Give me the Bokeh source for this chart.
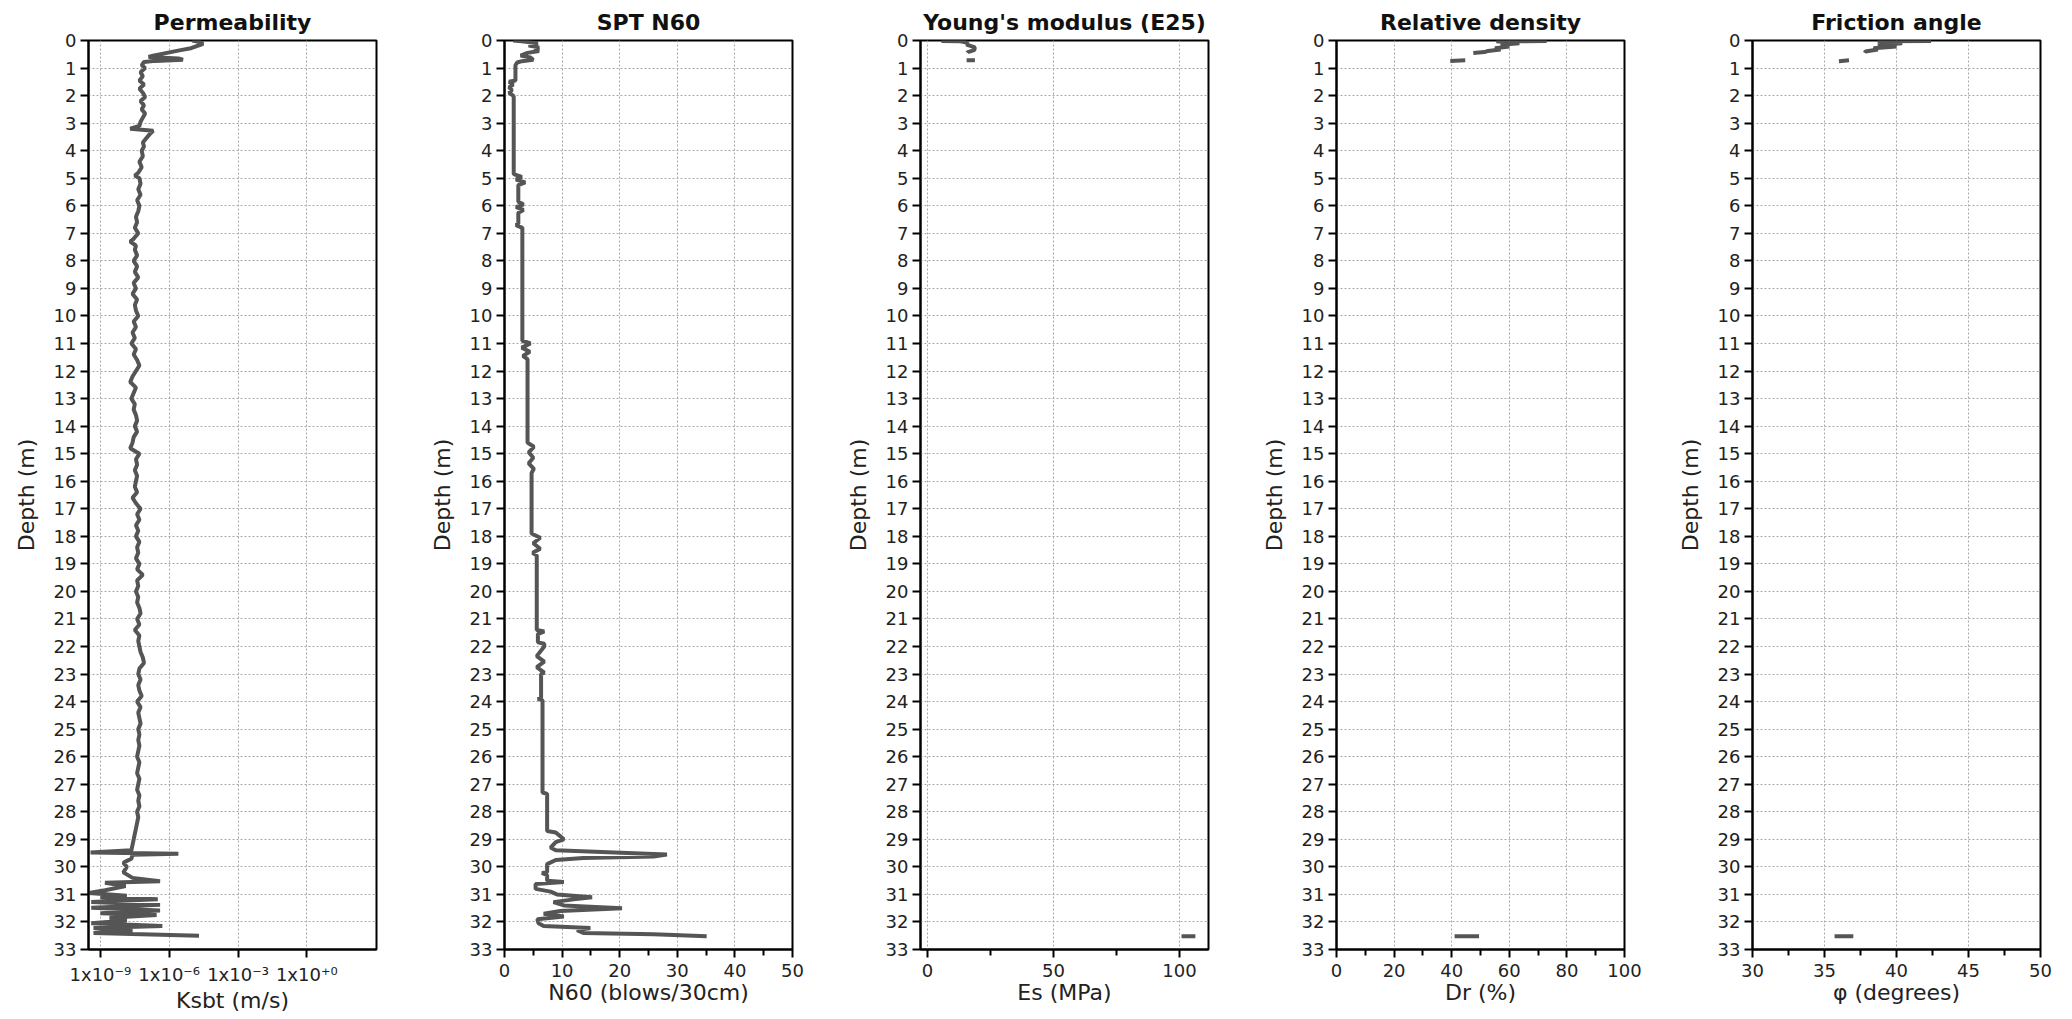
from bokeh.plotting import figure
from bokeh.layouts import row
from bokeh.models import Range1d, FixedTicker, CustomJSTickFormatter
from bokeh.embed import file_html
from bokeh.resources import INLINE

NaN = float("nan")

# ---------------- data ----------------
depth_ticks = list(range(0, 34))

# Permeability (log10 of Ksbt, m/s)
perm_depth = [
    0.00, 0.05, 0.12, 0.20, 0.28, 0.35, 0.45, 0.55, 0.60, 0.65, 0.70, 0.74, 0.78, 0.90,
    1.00, 1.15, 1.30, 1.45, 1.60, 1.75, 1.90, 2.05, 2.20, 2.35, 2.50, 2.65, 2.80, 2.95,
    3.10, 3.20, 3.28, 3.40, 3.55, 3.70, 3.85, 4.00, 4.20, 4.40, 4.60, 4.80, 4.90, 5.00,
    5.20, 5.40, 5.60, 5.80, 6.00, 6.20, 6.40, 6.60, 6.80, 7.00, 7.20, 7.30, 7.45, 7.60,
    7.80, 8.00, 8.20, 8.40, 8.60, 8.80, 9.00, 9.20, 9.40, 9.60, 9.80, 10.00, 10.20, 10.40,
    10.60, 10.80, 11.00, 11.20, 11.40, 11.60, 11.80, 12.00, 12.20, 12.40, 12.60, 12.80,
    13.00, 13.20, 13.40, 13.60, 13.80, 14.00, 14.20, 14.40, 14.60, 14.80, 15.00, 15.20,
    15.40, 15.60, 15.80, 16.00, 16.20, 16.40, 16.60, 16.80, 17.00, 17.20, 17.40, 17.60,
    17.80, 18.00, 18.20, 18.40, 18.60, 18.80, 19.00, 19.20, 19.40, 19.60, 19.80, 20.00,
    20.20, 20.40, 20.60, 20.80, 21.00, 21.20, 21.40, 21.60, 21.80, 22.00, 22.20, 22.40,
    22.60, 22.80, 23.00, 23.20, 23.40, 23.60, 23.80, 24.00, 24.20, 24.40, 24.60, 24.80,
    25.00, 25.20, 25.40, 25.60, 25.80, 26.00, 26.20, 26.40, 26.60, 26.80, 27.00, 27.20,
    27.40, 27.60, 27.80, 28.00, 28.20, 28.40, 28.60, 28.80, 29.00, 29.20, 29.40, 29.48,
    29.52, 29.56, 29.70, 29.85, 30.00, 30.20, 30.40, 30.52, 30.58, 30.70, 30.85, 30.95,
    31.05, 31.10, 31.18, 31.28, 31.38, 31.48, 31.58, 31.68, 31.75, 31.85, 31.95, 32.05,
    32.15, 32.22, 32.30, 32.40, 32.50,
]
perm_log10 = [
    -5.00, -4.70, -4.52, -4.80, -5.05, -5.50, -6.10, -6.70, -6.90, -5.60, -5.40, -6.60, -7.10, -7.20,
    -7.05, -7.25, -7.15, -7.30, -7.10, -7.30, -7.15, -7.05, -7.25, -7.10, -7.20, -7.05, -7.15, -7.25,
    -7.30, -7.70, -6.70, -6.85, -7.00, -7.15, -7.10, -7.20, -7.15, -7.30, -7.20, -7.35, -7.50, -7.30,
    -7.25, -7.35, -7.25, -7.40, -7.30, -7.35, -7.45, -7.40, -7.50, -7.35, -7.55, -7.70, -7.45, -7.50,
    -7.40, -7.55, -7.40, -7.50, -7.35, -7.55, -7.45, -7.60, -7.40, -7.50, -7.45, -7.35, -7.55, -7.45,
    -7.60, -7.50, -7.65, -7.45, -7.55, -7.40, -7.30, -7.45, -7.60, -7.70, -7.45, -7.55,
    -7.65, -7.50, -7.55, -7.45, -7.40, -7.50, -7.40, -7.55, -7.60, -7.70, -7.30, -7.45,
    -7.40, -7.50, -7.40, -7.45, -7.50, -7.40, -7.60, -7.45, -7.25, -7.40, -7.30, -7.45,
    -7.35, -7.45, -7.30, -7.40, -7.35, -7.45, -7.30, -7.40, -7.15, -7.40, -7.35, -7.45,
    -7.35, -7.40, -7.30, -7.25, -7.40, -7.30, -7.50, -7.30, -7.35, -7.30, -7.25, -7.15,
    -7.10, -7.30, -7.35, -7.25, -7.35, -7.30, -7.20, -7.40, -7.25, -7.35, -7.30, -7.25,
    -7.35, -7.30, -7.35, -7.30, -7.35, -7.40, -7.30, -7.35, -7.40, -7.30, -7.35, -7.40,
    -7.30, -7.35, -7.30, -7.40, -7.35, -7.40, -7.45, -7.50, -7.55, -7.60, -7.65, -9.43,
    -5.60, -7.60, -7.65, -8.00, -7.85, -8.00, -7.60, -6.40, -8.80, -7.90, -8.80, -9.50,
    -7.85, -9.00, -6.50, -9.40, -6.40, -9.40, -6.40, -9.00, -6.55, -8.60, -7.85, -9.40,
    -6.30, -9.30, -7.60, -9.30, -4.70,
]
perm_k = [10 ** v for v in perm_log10]
perm_ticks = [1e-9, 1e-6, 1e-3, 1.0]
perm_tick_labels = ["1x10⁻⁹", "1x10⁻⁶", "1x10⁻³", "1x10⁺⁰"]

# SPT N60 (blows/30cm)
spt_depth = [
    0.00, 0.03, 0.10, 0.18, 0.25, 0.32, 0.38, 0.45, 0.55, 0.62, 0.70, 0.75, 0.80, 0.90,
    1.45, 1.50, 1.60, 1.70, 1.80, 1.90, 2.00, 2.05, 4.85, 4.95, 5.05, 5.15, 5.25, 5.85,
    5.95, 6.05, 6.15, 6.25, 6.65, 6.70, 6.80, 10.90, 11.00, 11.15, 11.30, 11.45, 11.57,
    14.60, 14.75, 14.95, 15.15, 15.35, 15.55, 15.70, 17.90, 18.05, 18.25, 18.45, 18.60,
    18.70, 21.40, 21.45, 21.55, 21.85, 21.90, 22.00, 22.35, 22.55, 22.75, 22.95, 23.00,
    23.85, 23.90, 23.95, 27.30, 27.35, 28.70, 28.75, 29.00, 29.10, 29.30, 29.40, 29.55,
    29.62, 29.68, 29.75, 29.90, 30.20, 30.22, 30.30, 30.50, 30.55, 30.62, 30.80, 30.90,
    31.00, 31.10, 31.18, 31.28, 31.40, 31.50, 31.60, 31.70, 31.80, 31.90, 32.05, 32.15,
    32.22, 32.30, 32.40, 32.45, 32.52,
]
spt_n60 = [
    1.5, 3.0, 5.8, 4.2, 6.0, 5.2, 6.0, 4.0, 2.8, 4.5, 5.0, 3.0, 2.2, 1.9,
    1.9, 0.8, 1.5, 0.8, 1.3, 0.8, 1.5, 1.6, 1.6, 3.0, 2.0, 3.6, 2.4, 2.4,
    3.3, 2.0, 3.3, 2.4, 2.4, 2.0, 3.1, 3.1, 4.5, 3.0, 4.4, 3.2, 4.0,
    4.0, 5.1, 4.2, 5.0, 4.2, 5.1, 4.7, 4.7, 6.2, 5.0, 6.2, 4.9,
    5.6, 5.6, 6.9, 5.8, 5.8, 6.9, 6.9, 5.6, 6.9, 5.6, 6.9, 6.35,
    6.35, 5.8, 6.6, 6.6, 7.4, 7.4, 8.9, 10.3, 8.9, 8.0, 8.9, 28.2,
    25.9, 13.7, 8.9, 7.4, 7.4, 6.5, 7.4, 7.4, 10.3, 5.4, 5.4, 8.0,
    9.1, 15.2, 12.0, 8.5, 10.3, 20.4, 9.7, 6.8, 10.3, 5.7, 5.9, 6.8,
    14.9, 12.6, 13.7, 25.9, 35.1,
]

# Young's modulus Es (MPa) - gaps where no value
es_depth = [0.02, 0.03, 0.08, 0.15, 0.25, 0.35, 0.42, 0.45, NaN, 0.72, 0.72, NaN, 32.52, 32.52]
es_mpa = [5.5, 13.0, 16.0, 15.5, 18.8, 18.5, 16.0, 15.8, NaN, 15.5, 18.8, NaN, 100.8, 106.3]

# Relative density Dr (%)
dr_depth = [0.02, 0.03, 0.10, 0.15, 0.22, 0.28, 0.33, 0.38, 0.42, 0.45, NaN, 0.72, 0.74, NaN, 32.52, 32.52]
dr_pct = [73.0, 55.5, 63.5, 57.0, 60.0, 55.0, 57.0, 52.6, 51.4, 47.5, NaN, 44.7, 39.5, NaN, 41.0, 49.5]

# Friction angle phi (degrees)
phi_depth = [0.02, 0.03, 0.10, 0.15, 0.22, 0.28, 0.33, 0.40, 0.45, NaN, 0.72, 0.75, NaN, 32.52, 32.52]
phi_deg = [42.4, 38.7, 40.4, 38.7, 40.0, 38.4, 38.7, 37.85, 37.8, NaN, 36.7, 36.0, NaN, 35.7, 37.0]

# ---------------- styling ----------------
FONT = "DejaVu Sans"
LINE_COLOR = "#555555"


def make_panel(title, xlabel, xdata, ydata, x_range, ticks, minor_ticks, width, border_right,
               x_axis_type="linear", formatter=None):
    p = figure(width=width, height=1015, x_axis_type=x_axis_type,
               x_range=x_range, y_range=Range1d(33, 0),
               output_backend="svg", toolbar_location=None,
               min_border_left=88, min_border_right=border_right,
               min_border_top=40, min_border_bottom=61)
    p.title.text = title
    p.title.align = "center"
    p.title.text_font = FONT
    p.title.text_font_size = "22px"
    p.title.text_font_style = "bold"
    p.title.text_color = "#111111"
    p.title.standoff = 11

    p.xaxis.ticker = FixedTicker(ticks=ticks, minor_ticks=minor_ticks)
    if formatter is not None:
        p.xaxis.formatter = formatter
    p.yaxis.ticker = FixedTicker(ticks=depth_ticks)

    p.xaxis.axis_label = xlabel
    p.yaxis.axis_label = "Depth (m)"
    for ax in (p.xaxis, p.yaxis):
        ax.axis_label_text_font = FONT
        ax.axis_label_text_font_size = "22px"
        ax.axis_label_text_font_style = "normal"
        ax.axis_label_text_color = "#222222"
        ax.major_label_text_font = FONT
        ax.major_label_text_font_size = "18px"
        ax.major_label_text_color = "#222222"
        ax.axis_line_color = "black"
        ax.axis_line_width = 2
        ax.major_tick_line_color = "black"
        ax.major_tick_line_width = 2
        ax.major_tick_out = 8
        ax.major_tick_in = 0
        ax.minor_tick_line_color = "black"
        ax.minor_tick_line_width = 2
        ax.minor_tick_out = 6
        ax.minor_tick_in = 0
    p.xaxis.major_label_standoff = 6
    p.xaxis.axis_label_standoff = 0
    p.yaxis.major_label_standoff = 4
    p.yaxis.axis_label_standoff = 12

    p.xgrid.grid_line_color = "#a8a8a8"
    p.xgrid.grid_line_dash = "2 2"
    p.ygrid.grid_line_color = "#a8a8a8"
    p.ygrid.grid_line_dash = "2 2"

    p.outline_line_color = "black"
    p.outline_line_width = 2
    p.outline_line_alpha = 1.0
    p.background_fill_color = "white"
    p.border_fill_color = "white"

    p.line(xdata, ydata, line_color=LINE_COLOR, line_width=4)
    return p


perm_formatter = CustomJSTickFormatter(
    args=dict(tick_values=perm_ticks, tick_labels=perm_tick_labels), code="""
    let best = 0;
    for (let i = 0; i < tick_values.length; i++) {
        if (Math.abs(Math.log10(tick) - Math.log10(tick_values[i])) <
            Math.abs(Math.log10(tick) - Math.log10(tick_values[best]))) { best = i; }
    }
    return tick_labels[best];
""")

p1 = make_panel("Permeability", "Ksbt (m/s)", perm_k, perm_depth,
                Range1d(10 ** -9.52, 10 ** 3.04), perm_ticks, [], 416, 40,
                x_axis_type="log", formatter=perm_formatter)
p2 = make_panel("SPT N60", "N60 (blows/30cm)", spt_n60, spt_depth,
                Range1d(0, 50), [0, 10, 20, 30, 40, 50], [5, 15, 25, 35, 45], 416, 40)
p3 = make_panel("Young's modulus (E25)", "Es (MPa)", es_mpa, es_depth,
                Range1d(-2.8, 111.5), [0, 50, 100], [25, 75], 416, 40)
p4 = make_panel("Relative density", "Dr (%)", dr_pct, dr_depth,
                Range1d(0, 100), [0, 20, 40, 60, 80, 100], [10, 30, 50, 70, 90], 416, 40)
p5 = make_panel("Friction angle", "φ (degrees)", phi_deg, phi_depth,
                Range1d(30, 50), [30, 35, 40, 45, 50], [32.5, 37.5, 42.5, 47.5], 400, 24)

layout = row(p1, p2, p3, p4, p5)

with open("out.html", "w") as f:
    f.write(file_html(layout, INLINE))
